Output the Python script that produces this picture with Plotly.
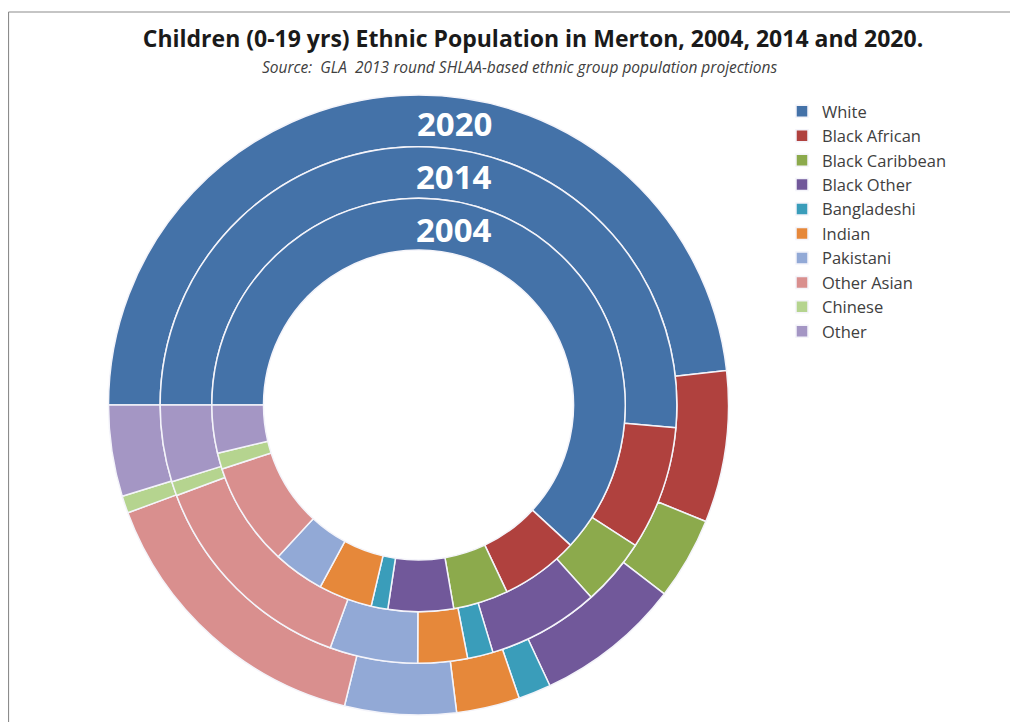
import plotly.graph_objects as go

# ---- data (percent of children 0-19 by ethnic group) ----
categories = ["White", "Black African", "Black Caribbean", "Black Other", "Bangladeshi",
              "Indian", "Pakistani", "Other Asian", "Chinese", "Other"]
years = ["2004", "2014", "2020"]
values_2004 = [61.8, 6.1, 4.3, 5.1, 1.3, 4.2, 4.0, 8.1, 1.25, 3.75]
values_2014 = [51.4, 7.75, 4.2, 7.0, 1.6, 3.1, 5.5, 13.75, 0.9, 4.8]
values_2020 = [48.2, 7.9, 4.3, 7.6, 1.7, 3.3, 5.8, 15.5, 0.9, 4.75]

colors = ["#4472A8", "#B0413E", "#8CAA4C", "#71589A", "#3A9DBA",
          "#E6883A", "#92A9D6", "#D98F8E", "#B5D48F", "#A496C4"]

OFF = 8                        # page body margin in the browser
W, H = 1010, 714
cx, cy = 418.5 - OFF, 405.0 - OFF   # centre in figure px (from top-left)
R = 310.0                      # outer radius in px
ring_frac = [1.0, 5 / 6, 4 / 6, 3 / 6]   # outer edge of each ring, then hole


def px(x):
    return (x - OFF) / W


def py(y):
    return 1 - (y - OFF) / H


def domain(r):
    yc = H - cy
    return dict(x=[(cx - r) / W, (cx + r) / W], y=[(yc - r) / H, (yc + r) / H])


fig = go.Figure()
ring_values = [values_2020, values_2014, values_2004]
for i, (vals, yr) in enumerate(zip(ring_values, ["2020", "2014", "2004"])):
    r_out = R * ring_frac[i]
    r_in = R * ring_frac[i + 1]
    fig.add_trace(go.Pie(
        labels=categories, values=vals, name=yr,
        domain=domain(r_out), hole=r_in / r_out,
        sort=False, direction="clockwise", rotation=270,
        marker=dict(colors=colors, line=dict(color="#F4F4FA", width=1.5)),
        textinfo="none", showlegend=(i == 0),
        hovertemplate=yr + "<br>%{label}: %{value}%<extra></extra>",
    ))

# ring labels
label_y = [124, 176, 229]
for yr, ly in zip(["2020", "2014", "2004"], label_y):
    fig.add_annotation(text="<b>" + yr + "</b>", x=px(454), y=py(ly),
                       xref="paper", yref="paper", showarrow=False,
                       font=dict(family="Open Sans", size=33, color="white"),
                       xanchor="center", yanchor="middle")

fig.add_annotation(text="<i>Source:  GLA  2013 round SHLAA-based ethnic group population projections</i>",
                   x=px(520), y=py(67), xref="paper", yref="paper", showarrow=False,
                   font=dict(family="Open Sans", size=15.5, color="#404040"),
                   xanchor="center", yanchor="middle")

# chart frame (left and top edges visible)
frame = dict(color="#8C8C8C", width=1.2)
fig.add_shape(type="line", xref="paper", yref="paper",
              x0=px(8.5), x1=px(8.5), y0=-0.05, y1=py(12), line=frame)
fig.add_shape(type="line", xref="paper", yref="paper",
              x0=px(8.5), x1=1.05, y0=py(12), y1=py(12), line=frame)

fig.update_layout(
    width=W, height=H,
    margin=dict(l=0, r=0, t=0, b=0),
    paper_bgcolor="white", plot_bgcolor="white",
    title=dict(text="<b>Children (0-19 yrs) Ethnic Population in Merton, 2004, 2014 and 2020.</b>",
               x=px(533), xanchor="center", y=py(39), yanchor="middle",
               yref="container", xref="paper",
               font=dict(family="Open Sans", size=23, color="#1a1a1a")),
    legend=dict(x=px(782), y=py(94), xanchor="left", yanchor="top",
                font=dict(family="Open Sans", size=16.5, color="#404040"),
                bgcolor="rgba(0,0,0,0)", traceorder="normal"),
)

fig.write_html("out.html")
